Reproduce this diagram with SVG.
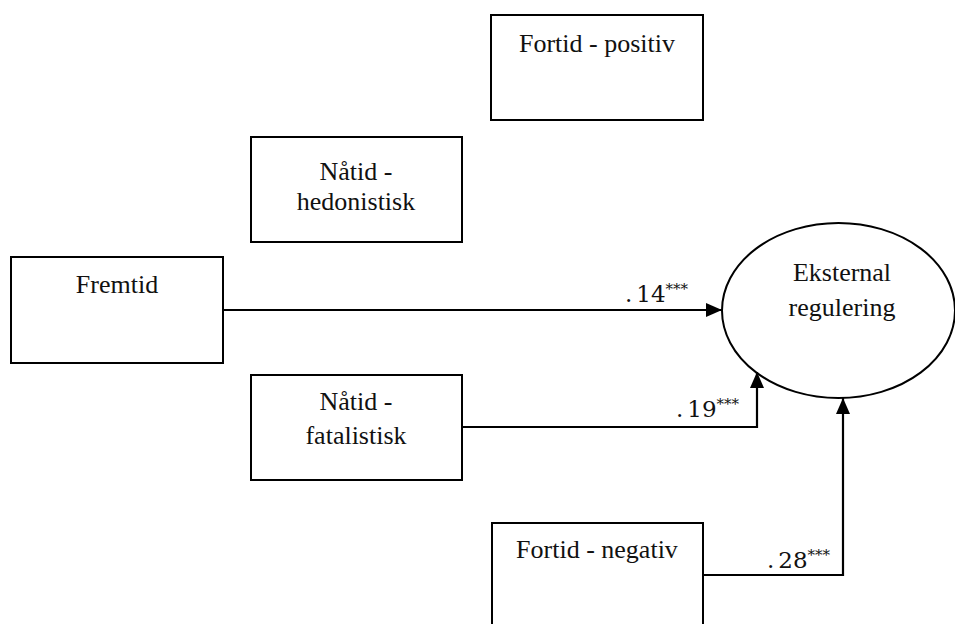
<svg xmlns="http://www.w3.org/2000/svg" width="955" height="624" viewBox="0 0 955 624">
<style>
.box{fill:#fff;stroke:#000;stroke-width:2}
.lbl{font-family:"Liberation Serif","Times New Roman",serif;font-size:26px;fill:#111;text-anchor:middle}
.coef{font-family:"DejaVu Serif",serif;font-size:23px;fill:#111}
.sup{font-size:15px}
.conn{fill:none;stroke:#000;stroke-width:2.2}
</style>
<defs>
<marker id="arr" markerUnits="userSpaceOnUse" markerWidth="17" markerHeight="15" refX="16" refY="7" orient="auto">
<path d="M0,0 L16,7 L0,14 Z" fill="#000"/>
</marker>
</defs>
<rect width="955" height="624" fill="#fff"/>
<g id="fortid-positiv">
<rect class="box" x="491" y="15" width="212" height="105"/>
<text class="lbl" x="597" y="52">Fortid - positiv</text>
</g>
<g id="natid-hedonistisk">
<rect class="box" x="251" y="137" width="211" height="105"/>
<text class="lbl" x="356" y="180">Nåtid -</text>
<text class="lbl" x="356" y="210">hedonistisk</text>
</g>
<g id="fremtid">
<rect class="box" x="11" y="257" width="212" height="106"/>
<text class="lbl" x="117" y="293">Fremtid</text>
</g>
<g id="natid-fatalistisk">
<rect class="box" x="251" y="375" width="211" height="105"/>
<text class="lbl" x="356" y="410">Nåtid -</text>
<text class="lbl" x="356" y="444">fatalistisk</text>
</g>
<g id="fortid-negativ">
<rect class="box" x="492" y="523" width="211" height="110"/>
<text class="lbl" x="597" y="558">Fortid - negativ</text>
</g>
<g id="eksternal-regulering">
<ellipse cx="838.5" cy="310.5" rx="116.5" ry="87.5" fill="#fff" stroke="#000" stroke-width="2"/>
<text class="lbl" x="842" y="281">Eksternal</text>
<text class="lbl" x="842" y="316">regulering</text>
</g>
<g id="connectors">
<path class="conn" d="M223,310 L722,310" marker-end="url(#arr)"/>
<path class="conn" d="M462,427 L757,427 L757,372" marker-end="url(#arr)"/>
<path class="conn" d="M703,575 L843,575 L843,398" marker-end="url(#arr)"/>
<text class="coef" x="625" y="302">.<tspan dx="4">14</tspan><tspan class="sup" dy="-8">***</tspan></text>
<text class="coef" x="676" y="417">.<tspan dx="4">19</tspan><tspan class="sup" dy="-8">***</tspan></text>
<text class="coef" x="767" y="568">.<tspan dx="4">28</tspan><tspan class="sup" dy="-8">***</tspan></text>
</g>
</svg>
